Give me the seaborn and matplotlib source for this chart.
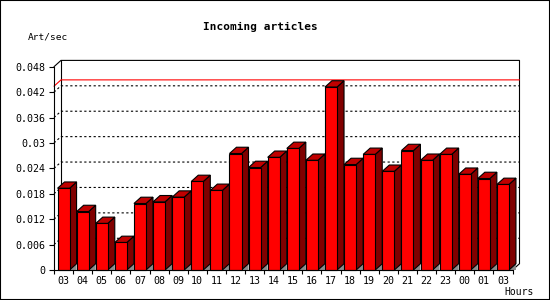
import numpy as np
import matplotlib
matplotlib.use("Agg")
import matplotlib.pyplot as plt
import seaborn as sns
from matplotlib.patches import Polygon, Rectangle

hours = ["03", "04", "05", "06", "07", "08", "09", "10", "11", "12", "13", "14",
         "15", "16", "17", "18", "19", "20", "21", "22", "23", "00", "01", "03"]
values = [0.0193, 0.0138, 0.0110, 0.0065, 0.0157, 0.0161, 0.0172, 0.0209,
          0.0188, 0.0275, 0.0242, 0.0266, 0.0287, 0.0259, 0.0432, 0.0249,
          0.0273, 0.0233, 0.0282, 0.0259, 0.0273, 0.0226, 0.0216, 0.0202]
max_line = 0.0434
yticks = [0, 0.006, 0.012, 0.018, 0.024, 0.03, 0.036, 0.042, 0.048]
ytick_labels = ["0", "0.006", "0.012", "0.018", "0.024", "0.03", "0.036", "0.042", "0.048"]
title = "Incoming articles"
ylabel = "Art/sec"
xlabel = "Hours"

sns.set_theme(style="white")
plt.rcParams['font.family'] = ['DejaVu Sans Mono', 'DejaVu Sans']

W, H = 550, 300
fig = plt.figure(figsize=(W / 100, H / 100), dpi=100)
fig.patch.set_facecolor("white")
ax_l, ax_r, ax_b, ax_t = 54.0, 512.5, 270.0, 66.7
ax = fig.add_axes([ax_l / W, 1 - ax_b / H, (ax_r - ax_l) / W, (ax_b - ax_t) / H])
ax.set_facecolor("white")

n = len(values)
idx = list(range(n))
sns.barplot(x=idx, y=values, color="#ff0000", saturation=1, width=0.63,
            edgecolor="black", linewidth=0.8, errorbar=None, ax=ax, zorder=4)

xmin, xmax = -0.5, n - 0.5
ymin, ymax = 0, 0.048
ax.set_xlim(xmin, xmax)
ax.set_ylim(ymin, ymax)

# depth offset in data units
px_x = (ax_r - ax_l) / (xmax - xmin)
px_y = (ax_b - ax_t) / (ymax - ymin)
dx = 7.0 / px_x
dy = 6.3 / px_y

lw = 0.8
# back wall grid lines
for t in yticks[1:-1]:
    ax.plot([xmin, xmin + dx, xmax + dx], [t, t + dy, t + dy], color="black",
            lw=lw, dashes=(2, 2.2), zorder=1, clip_on=False)
# max line
ax.plot([xmin, xmin + dx, xmax + dx], [max_line, max_line + dy, max_line + dy],
        color="#ff0000", lw=lw, zorder=1.5, clip_on=False)
# back wall frame
ax.plot([xmin, xmin + dx, xmax + dx, xmax + dx, xmax],
        [ymax, ymax + dy, ymax + dy, dy, 0], color="black", lw=lw,
        zorder=1, clip_on=False, solid_joinstyle="miter")
ax.plot([xmin + dx, xmin + dx], [dy, ymax + dy], color="black", lw=lw,
        zorder=1, clip_on=False)

# 3D faces for each bar
for p in list(ax.patches):
    x0 = p.get_x()
    x1 = x0 + p.get_width()
    h = p.get_height()
    shadow = Polygon([(x1, 0), (x1 + dx, dy), (x1 + dx, 0)], closed=True,
                     facecolor="#8c8c8c", edgecolor="none", zorder=3, clip_on=False)
    side = Polygon([(x1, 0), (x1, h), (x1 + dx, h + dy), (x1 + dx, dy)], closed=True,
                   facecolor="#800000", edgecolor="black", lw=lw, zorder=3.5,
                   clip_on=False, joinstyle="miter")
    top = Polygon([(x0, h), (x1, h), (x1 + dx, h + dy), (x0 + dx, h + dy)], closed=True,
                  facecolor="#c00000", edgecolor="black", lw=lw, zorder=3.5,
                  clip_on=False, joinstyle="miter")
    ax.add_patch(shadow)
    ax.add_patch(side)
    ax.add_patch(top)
    p.set_clip_on(False)

# spines
for s in ["top", "right"]:
    ax.spines[s].set_visible(False)
for s in ["left", "bottom"]:
    ax.spines[s].set_visible(True)
    ax.spines[s].set_color("black")
    ax.spines[s].set_linewidth(lw)
    ax.spines[s].set_zorder(5)

ax.set_yticks(yticks)
ax.set_yticklabels(ytick_labels)
ax.tick_params(axis="y", which="major", direction="out", length=3.5, width=lw,
               color="black", labelsize=7.2, pad=3, left=True)
ax.set_xticks([i - 0.5 for i in idx] + [xmax])
ax.set_xticklabels([])
ax.tick_params(axis="x", which="major", direction="out", length=3, width=lw,
               color="black", bottom=True)
ax.set_xticks(idx, minor=True)
ax.set_xticklabels(hours, minor=True)
ax.tick_params(axis="x", which="minor", length=0, labelsize=7.2, pad=4)
for lab in ax.get_xticklabels(minor=True) + ax.get_yticklabels():
    lab.set_color("black")
ax.set_xlabel("")
ax.set_ylabel("")
ax.grid(False)

fig.text(260 / W, 1 - 27 / H, title, ha="center", va="center", fontsize=8,
         fontweight="bold", color="black")
fig.text(28 / W, 1 - 37 / H, ylabel, ha="left", va="center", fontsize=6.8, color="black")
fig.text(534 / W, 1 - 292 / H, xlabel, ha="right", va="center", fontsize=7, color="black")

fig.add_artist(Rectangle((0, 0), 1, 1, transform=fig.transFigure, fill=False,
                         edgecolor="black", linewidth=1.5, clip_on=False))

fig.savefig("out.png", dpi=100, facecolor="white")
